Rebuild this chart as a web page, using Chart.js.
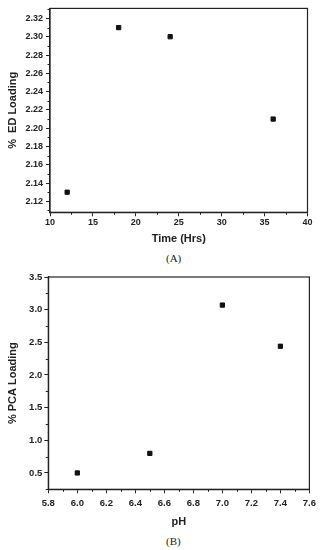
<!DOCTYPE html>
<html lang="en">
<head>
<meta charset="utf-8" />
<title>Loading charts</title>
<script src="https://cdn.jsdelivr.net/npm/chart.js@4.4.1/dist/chart.umd.min.js"></script>
<style>
  body { margin: 0; background: #fff; width: 320px; height: 550px; position: relative; overflow: hidden; }
  canvas { position: absolute; left: 0; }
  .cap { position: absolute; font: 11px "Liberation Serif", "Times New Roman", serif; color: #222; }
</style>
</head>
<body>

<canvas id="chartA" width="320" height="250" style="top:0"></canvas>
<div class="cap" style="top:252px;left:166px">(A)</div>
<canvas id="chartB" width="320" height="268" style="top:265px"></canvas>
<div class="cap" style="top:535px;left:166px">(B)</div>

<script>
// chart A: ED loading vs time
var timeHrs   = [12, 18, 24, 36];
var edLoading = [2.13, 2.31, 2.30, 2.21];
var timeTicks = [10, 15, 20, 25, 30, 35, 40];
var edTicks   = [2.12, 2.14, 2.16, 2.18, 2.20, 2.22, 2.24, 2.26, 2.28, 2.30, 2.32];

// chart B: PCA loading vs pH
var phValues   = [6.0, 6.5, 7.0, 7.4];
var pcaLoading = [0.50, 0.80, 3.07, 2.44];
var phTicks    = [5.8, 6.0, 6.2, 6.4, 6.6, 6.8, 7.0, 7.2, 7.4, 7.6];
var pcaTicks   = [0.5, 1.0, 1.5, 2.0, 2.5, 3.0, 3.5];

var ink = '#222';
Chart.defaults.font.family = '"Liberation Sans", Arial, sans-serif';
Chart.defaults.color = ink;

// box around the plot + short minor ticks half way between the majors
var frameMinor = {
  id: 'frameMinor',
  afterDraw: function(chart) {
    var ctx = chart.ctx, a = chart.chartArea;
    var xs = chart.scales.x, ys = chart.scales.y;
    ctx.save();
    ctx.strokeStyle = ink;
    ctx.lineWidth = 1.2;
    ctx.strokeRect(a.left, a.top, a.right - a.left, a.bottom - a.top);
    ctx.lineWidth = 1;
    ctx.beginPath();
    var xt = xs.ticks, yt = ys.ticks, i, v, p;
    var hx = (xt[1].value - xt[0].value) / 2;
    var hy = (yt[1].value - yt[0].value) / 2;
    for (i = -1; i < xt.length; i++) {
      v = (i < 0 ? xt[0].value : xt[i].value) + (i < 0 ? -hx : hx);
      if (v < xs.min || v > xs.max) continue;
      p = Math.round(xs.getPixelForValue(v)) + 0.5;
      ctx.moveTo(p, a.bottom); ctx.lineTo(p, a.bottom + 2.5);
    }
    for (i = -1; i < yt.length; i++) {
      v = (i < 0 ? yt[0].value : yt[i].value) + (i < 0 ? -hy : hy);
      if (v < ys.min || v > ys.max) continue;
      p = Math.round(ys.getPixelForValue(v)) + 0.5;
      ctx.moveTo(a.left, p); ctx.lineTo(a.left - 2.5, p);
    }
    ctx.stroke();
    ctx.restore();
  }
};

function makeChart(id, xs, ys, xTicks, yTicks, o) {
  var ctx = document.getElementById(id).getContext('2d');
  return new Chart(ctx, {
    type: 'scatter',
    data: {
      datasets: [{
        data: xs.map(function(x, i) { return { x: x, y: ys[i] }; }),
        pointStyle: 'rect',
        pointRadius: 3,
        backgroundColor: '#111',
        borderColor: '#111',
        borderWidth: 1
      }]
    },
    options: {
      responsive: false,
      animation: false,
      layout: { padding: o.pad },
      plugins: { legend: { display: false }, tooltip: { enabled: false } },
      scales: {
        x: {
          type: 'linear',
          min: o.xMin, max: o.xMax,
          afterBuildTicks: function(s) { s.ticks = xTicks.map(function(v) { return { value: v }; }); },
          afterFit: function(s) { s.height = o.xHeight; },
          grid: { drawOnChartArea: false, tickLength: 4, tickColor: ink },
          border: { color: ink, width: 1.2 },
          ticks: {
            padding: o.xPad, maxRotation: 0, color: ink,
            font: { size: o.tickSize, weight: 'bold' },
            callback: function(v) { return v.toFixed(o.xDec); }
          },
          title: {
            display: true, text: o.xTitle, color: ink,
            font: { size: 11, weight: 'bold' },
            padding: { top: 0, bottom: 4 }
          }
        },
        y: {
          type: 'linear',
          min: o.yMin, max: o.yMax,
          afterBuildTicks: function(s) { s.ticks = yTicks.map(function(v) { return { value: v }; }); },
          afterFit: function(s) { s.width = o.yWidth; },
          grid: { drawOnChartArea: false, tickLength: 4, tickColor: ink },
          border: { color: ink, width: 1.2 },
          ticks: {
            padding: o.yPad, color: ink,
            font: { size: o.tickSize, weight: 'bold' },
            callback: function(v) { return v.toFixed(o.yDec); }
          },
          title: {
            display: true, text: o.yTitle, color: ink,
            font: { size: 11, weight: 'bold' },
            padding: { top: 6, bottom: 0 }
          }
        }
      }
    },
    plugins: [frameMinor]
  });
}

makeChart('chartA', timeHrs, edLoading, timeTicks, edTicks, {
  pad: { top: 3, right: 12.5, bottom: 0, left: 0 },
  xMin: 10, xMax: 40, yMin: 2.108, yMax: 2.331,
  xHeight: 37.7, yWidth: 50, xPad: 1, yPad: 3, tickSize: 9,
  xDec: 0, yDec: 2,
  xTitle: 'Time (Hrs)', yTitle: '%  ED Loading'
});

makeChart('chartB', phValues, pcaLoading, phTicks, pcaTicks, {
  pad: { top: 12, right: 8.3, bottom: 0, left: 0 },
  xMin: 5.8, xMax: 7.6, yMin: 0.25, yMax: 3.5,
  xHeight: 43.7, yWidth: 48.3, xPad: 4, yPad: 2, tickSize: 9.5,
  xDec: 1, yDec: 1,
  xTitle: 'pH', yTitle: '% PCA Loading'
});
</script>
</body>
</html>
